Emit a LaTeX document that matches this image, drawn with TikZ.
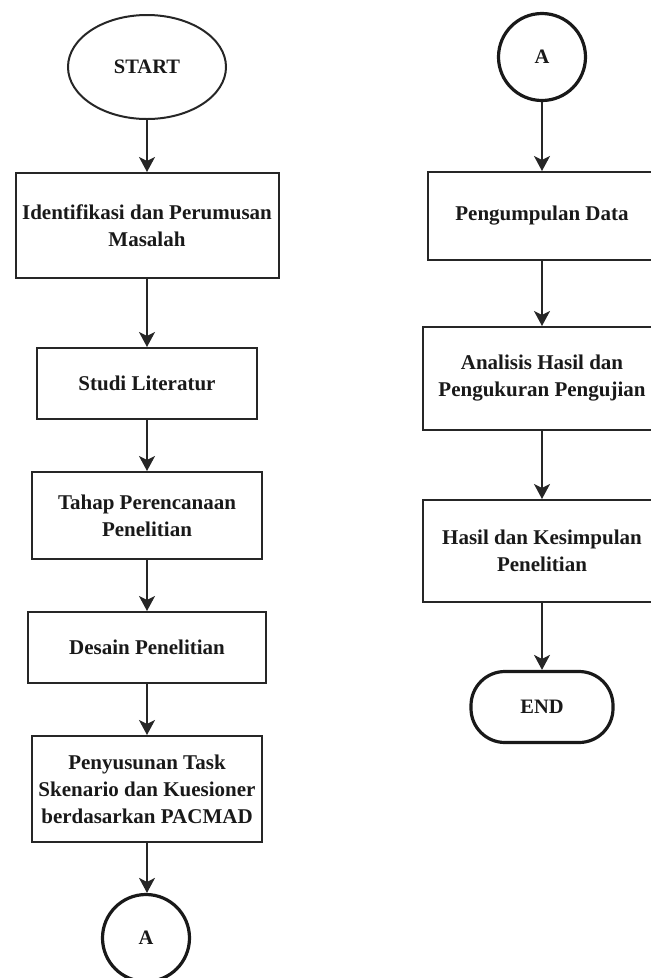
\documentclass[tikz,border=0pt]{standalone}
\usepackage{fontspec}
\setmainfont{Liberation Serif}
\usetikzlibrary{arrows.meta,shapes.geometric}

\tikzset{
    stepbox/.style={draw=black!85, line width=2pt, rectangle, align=center,
        inner sep=0pt, text=black!90, font=\bfseries\fontsize{21}{27}\selectfont},
    terminal/.style={draw=black!85, line width=2pt, ellipse, inner sep=0pt,
        text=black!90, font=\bfseries\fontsize{20.5}{25}\selectfont},
    offpage/.style={draw=black!90, line width=3.2pt, circle, minimum size=87pt,
        inner sep=0pt, text=black!90, font=\bfseries\fontsize{20.5}{25}\selectfont},
    stopbox/.style={draw=black!90, line width=3.2pt, rectangle, rounded corners=34pt,
        inner sep=0pt, text=black!90, font=\bfseries\fontsize{20.5}{25}\selectfont},
    flow/.style={draw=black!85, line width=1.5pt,
        -{Stealth[length=15pt,width=16pt,inset=4pt]}},
}

\begin{document}
\begin{tikzpicture}[x=1pt,y=-1pt]
    \useasboundingbox (0,0) rectangle (651,978);
    \clip (0,0) rectangle (651,978);

    % left column
    \node[terminal, minimum width=158pt, minimum height=104pt] (start) at (147,67) {START};
    \node[stepbox, minimum width=263pt, minimum height=105pt] (ident) at (147,225.5)
        {Identifikasi dan Perumusan\\Masalah};
    \node[stepbox, minimum width=220pt, minimum height=71pt] (studi) at (147,383.5)
        {Studi Literatur};
    \node[stepbox, minimum width=230pt, minimum height=87pt] (tahap) at (147,515.5)
        {Tahap Perencanaan\\Penelitian};
    \node[stepbox, minimum width=238pt, minimum height=71pt] (desain) at (147,647.5)
        {Desain Penelitian};
    \node[stepbox, minimum width=230pt, minimum height=106pt] (susun) at (147,789)
        {Penyusunan Task\\Skenario dan Kuesioner\\berdasarkan PACMAD};
    \node[offpage] (aout) at (146,938) {A};

    % right column
    \node[offpage] (ain) at (542,57) {A};
    \node[stepbox, minimum width=228pt, minimum height=88pt] (kumpul) at (542,216)
        {Pengumpulan Data};
    \node[stepbox, minimum width=238pt, minimum height=103pt] (analisis) at (542,378.5)
        {Analisis Hasil dan\\Pengukuran Pengujian};
    \node[stepbox, minimum width=238pt, minimum height=102pt] (hasil) at (542,551)
        {Hasil dan Kesimpulan\\Penelitian};
    \node[stopbox, minimum width=142pt, minimum height=71pt] (stop) at (542,707) {END};

    \draw[flow] (start) -- (ident);
    \draw[flow] (ident) -- (studi);
    \draw[flow] (studi) -- (tahap);
    \draw[flow] (tahap) -- (desain);
    \draw[flow] (desain) -- (susun);
    \draw[flow] (susun.south) -- (susun.south |- aout.north);
    \draw[flow] (ain) -- (kumpul);
    \draw[flow] (kumpul) -- (analisis);
    \draw[flow] (analisis) -- (hasil);
    \draw[flow] (hasil) -- (stop);
\end{tikzpicture}
\end{document}
